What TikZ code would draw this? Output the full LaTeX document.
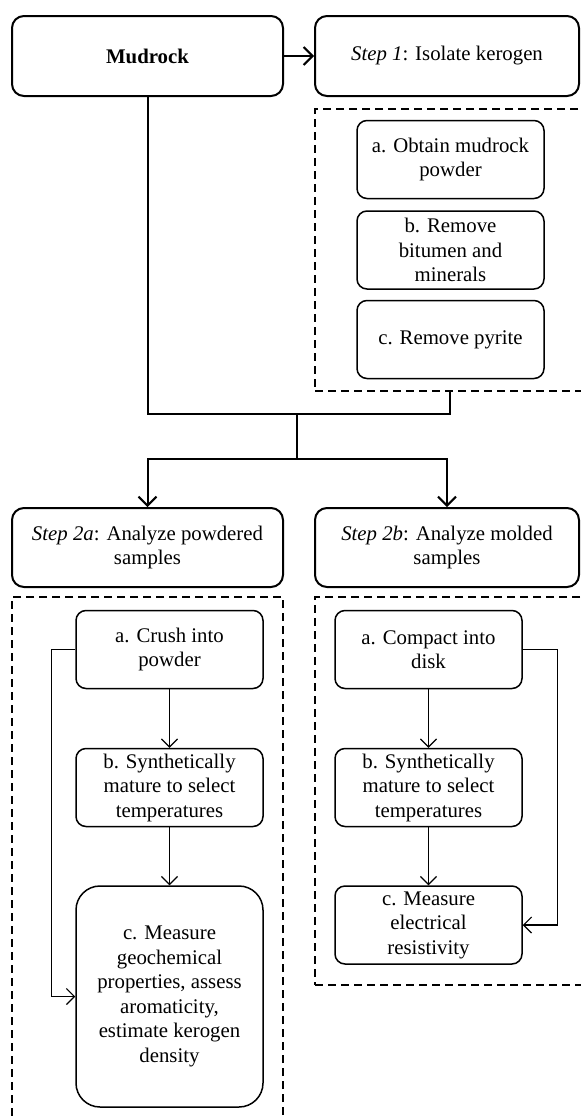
\documentclass[tikz,border=0pt]{standalone}
\usepackage{fontspec}
\setmainfont{Liberation Serif}
\usetikzlibrary{arrows.meta}

\begin{document}
\begin{tikzpicture}[%
        x=0.5pt, y=-0.5pt,
        every node/.style={font=\fontsize{10.4}{12.25}\selectfont, align=center},
        mybox/.style={draw, rounded corners=6pt, line width=1pt, inner sep=2pt},
        mysub/.style={draw, rounded corners=5pt, line width=0.75pt, minimum width=93.5pt, minimum height=39pt, inner sep=1pt},
        mydash/.style={draw, dash pattern=on 4pt off 2.5pt, line width=0.6pt, inner sep=0pt},
        myline/.style={line width=1pt, -{Straight Barb[length=4.5pt,width=9pt]}},
        mythin/.style={line width=0.6pt, -{Straight Barb[length=4pt,width=8pt]}},
        myplain/.style={line width=1pt}
    ]
    \useasboundingbox (0,0) rectangle (580,1119);

    % top row
    \node [mybox, minimum width=135.5pt, minimum height=40pt] (mud) at (147.5,56) {\textbf{Mudrock}};
    \node [mybox, minimum width=132pt, minimum height=40pt] (stepone) at (447,56) {\textit{Step 1}: Isolate kerogen};
    \draw [myline] (mud) -- (stepone);

    % step 1 details
    \node [mydash, minimum width=135pt, minimum height=141pt] (grpone) at (450,250) {};
    \foreach \myname/\myy/\mytext in {sa/159.5/{a. Obtain mudrock\\powder},
                                      sb/250/{b. Remove\\bitumen and\\minerals},
                                      sc/339.5/{c. Remove pyrite}} {
        \node [mysub] (\myname) at (450.5,\myy) {\mytext};
    }

    % joining lines
    \coordinate (mysplit) at (297,414);
    \coordinate (myfork) at (297,459);
    \draw [myplain] (mud.south) |- (grpone.south |- mysplit) -- (grpone.south);
    \draw [myplain] (mysplit) -- (myfork);

    % step 2 boxes
    \node [mybox, minimum width=135.5pt, minimum height=39.5pt] (steptwoa) at (147.5,547.5) {\textit{Step 2a}: Analyze powdered\\samples};
    \node [mybox, minimum width=132pt, minimum height=39.5pt] (steptwob) at (447,547.5) {\textit{Step 2b}: Analyze molded\\samples};
    \draw [myline] (myfork) -| (steptwoa.north);
    \draw [myline] (myfork) -| (steptwob.north);

    % step 2a details
    \node [mydash, minimum width=135.5pt, minimum height=266.5pt] (grptwoa) at (147.5,863.5) {};
    \node [mysub] (aa) at (169.5,649.5) {a. Crush into\\powder};
    \node [mysub] (ab) at (169.5,787.5) {b. Synthetically\\mature to select\\temperatures};
    \node [mysub, minimum height=110.5pt, rounded corners=12pt] (ac) at (169.5,996.5) {c. Measure\\geochemical\\properties, assess\\aromaticity,\\estimate kerogen\\density};
    \draw [mythin] (aa) -- (ab);
    \draw [mythin] (ab) -- (ac);
    \draw [mythin] (aa.west) -- ++(-24,0) |- (ac.west);

    % step 2b details
    \node [mydash, minimum width=135pt, minimum height=194pt] (grptwob) at (450,791) {};
    \node [mysub] (ba) at (428.5,649.5) {a. Compact into\\disk};
    \node [mysub] (bb) at (428.5,787.5) {b. Synthetically\\mature to select\\temperatures};
    \node [mysub] (bc) at (428.5,925) {c. Measure\\electrical\\resistivity};
    \draw [mythin] (ba) -- (bb);
    \draw [mythin] (bb) -- (bc);
    \draw [mythin] (ba.east) -- ++(35,0) |- (bc.east);
\end{tikzpicture}
\end{document}
